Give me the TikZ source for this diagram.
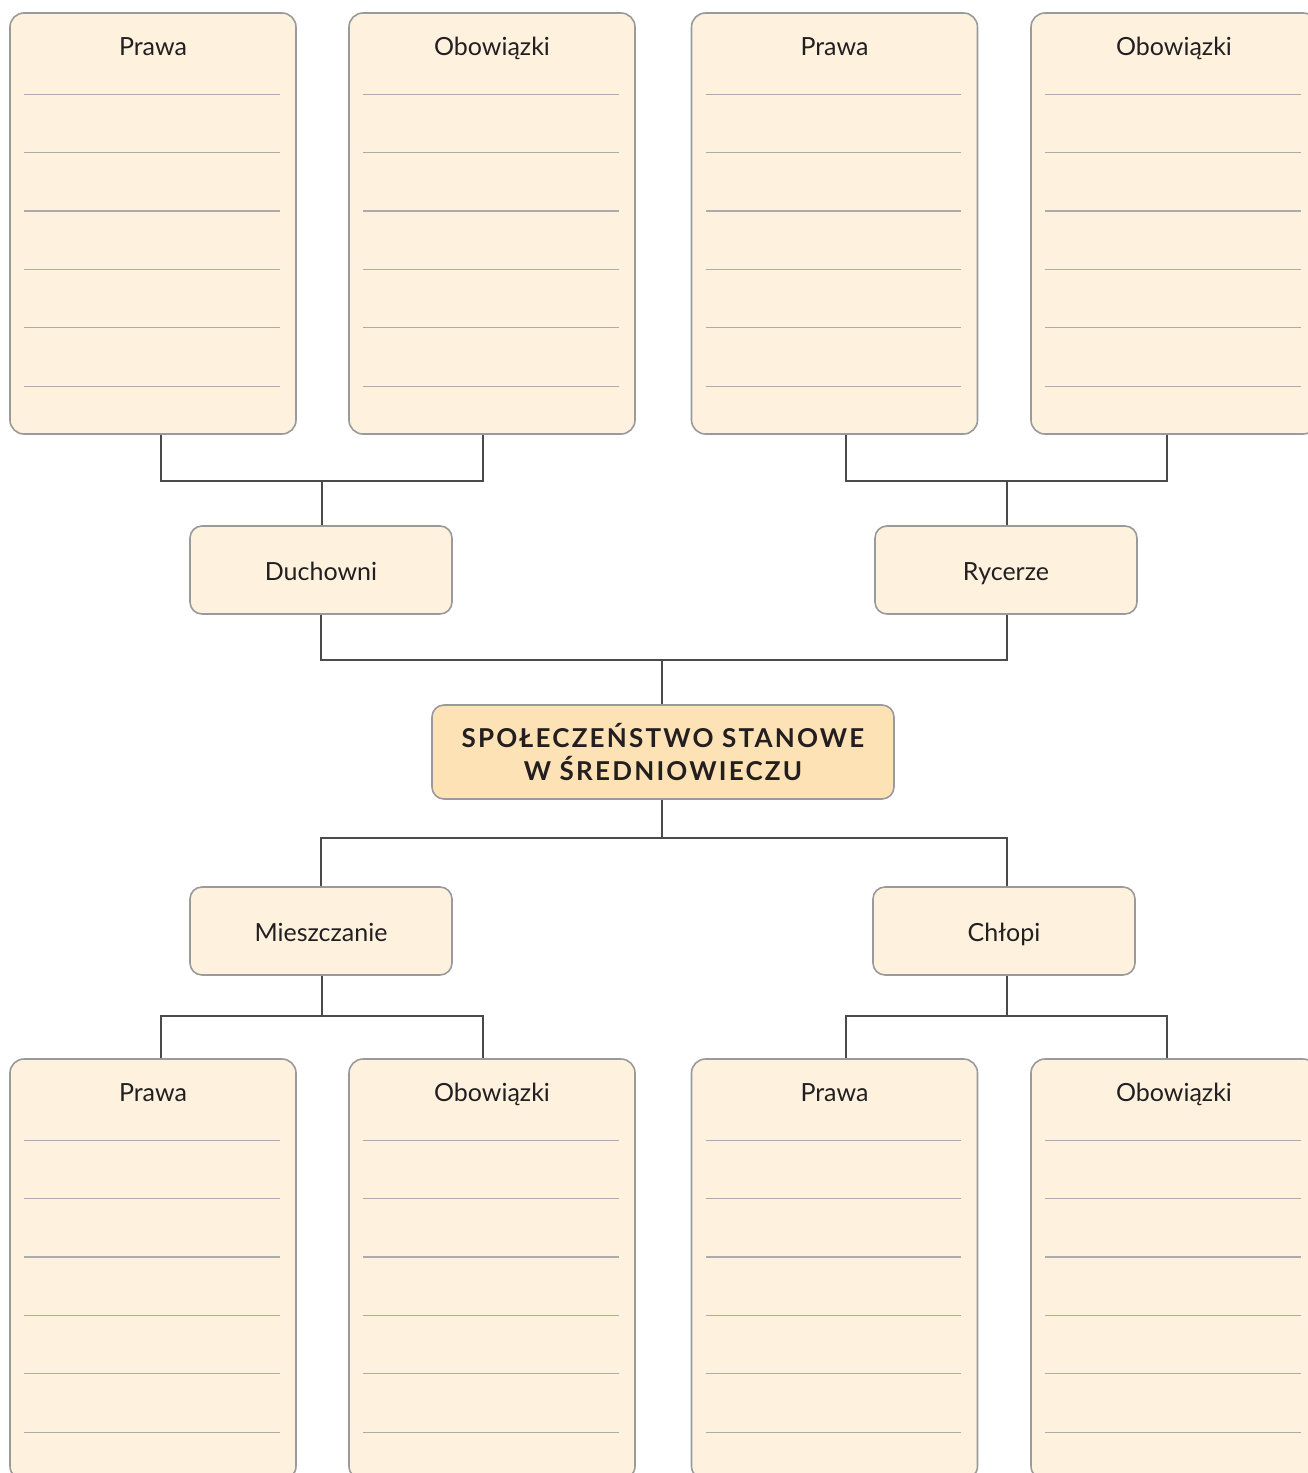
\documentclass[tikz,border=0pt]{standalone}
\usepackage{fontspec}
\setmainfont{Lato}
\usetikzlibrary{calc}
\definecolor{boxfill}{HTML}{FEF2DF}
\definecolor{boxdraw}{HTML}{9A9A9C}
\definecolor{centerfill}{HTML}{FDE2B5}
\definecolor{connline}{HTML}{4A4A4A}
\definecolor{ruleline}{HTML}{ABABAB}
\definecolor{txt}{HTML}{231F20}
\tikzset{
  bigbox/.style={draw=boxdraw, line width=1.6pt, fill=boxfill, rounded corners=14pt,
    minimum width=286pt, minimum height=421pt, inner sep=0pt},
  smallbox/.style={draw=boxdraw, line width=1.6pt, fill=boxfill, rounded corners=12pt,
    minimum width=262pt, minimum height=88pt, inner sep=0pt, text=txt,
    text height=20pt, text depth=0pt,
    font=\fontsize{25}{28}\selectfont},
  centerbox/.style={draw=boxdraw, line width=1.6pt, fill=centerfill, rounded corners=12pt,
    minimum width=462pt, minimum height=94pt, inner sep=0pt, text=txt, align=center,
    font=\fontsize{26}{32.5}\selectfont\bfseries\addfontfeatures{LetterSpace=8.5}},
  boxtitle/.style={text=txt, inner sep=0pt, font=\fontsize{25}{28}\selectfont},
  rule/.style={draw=ruleline, line width=1.1pt},
  conn/.style={draw=connline, line width=2pt}
}
\begin{document}
\begin{tikzpicture}[x=1pt,y=-1pt]
\useasboundingbox (0,0) rectangle (1308,1473);
\clip (0,0) rectangle (1308,1473);
\fill[white] (0,0) rectangle (1308,1473);

% junction points of the connectors
\coordinate (jt1) at (322,481);
\coordinate (jt2) at (1007,481);
\coordinate (jm1) at (662,660);
\coordinate (jm2) at (662,838);
\coordinate (jb1) at (322,1016);
\coordinate (jb2) at (1007,1016);

% big boxes
\foreach \n/\cx/\cy/\t in {a1/153/223.5/Prawa, a2/492/223.5/Obowiązki, a3/834.5/223.5/Prawa, a4/1174/223.5/Obowiązki,
                           b1/153/1269.5/Prawa, b2/492/1269.5/Obowiązki, b3/834.5/1269.5/Prawa, b4/1174/1269.5/Obowiązki}{
  \node[bigbox] (\n) at (\cx,\cy) {};
  \node[boxtitle, anchor=base] (\n t) at ($(\n.north)+(0,43)$) {\t};
  \foreach \k in {0,...,5}{
    \draw[rule] ($(\n.north west)+(15,82+58.4*\k)$) -- ($(\n.north east)+(-17,82+58.4*\k)$);
  }
}

\node[smallbox] (duch) at (321,570) {Duchowni};
\node[smallbox] (ryc) at (1006,570) {Rycerze};
\node[centerbox] (ctr) at (663,752) {SPOŁECZEŃSTWO STANOWE\\W ŚREDNIOWIECZU};
\node[smallbox] (mie) at (321,931) {Mieszczanie};
\node[smallbox] (chl) at (1004,931) {Chłopi};

% top-left group
\draw[conn] ([xshift=8pt]a1.south) |- (jt1) -| ([xshift=-9pt]a2.south);
\draw[conn] (jt1) -- (duch.north -| jt1);
% top-right group
\draw[conn] ([xshift=11.5pt]a3.south) |- (jt2) -| ([xshift=-7pt]a4.south);
\draw[conn] (jt2) -- (ryc.north -| jt2);
% middle
\draw[conn] (duch.south) |- (jm1) -| (ryc.south -| jt2);
\draw[conn] (jm1) -- (ctr.north -| jm1);
\draw[conn] (ctr.south -| jm2) -- (jm2);
\draw[conn] (mie.north) |- (jm2) -| (chl.north -| jb2);
% bottom-left
\draw[conn] (mie.south -| jb1) -- (jb1);
\draw[conn] ([xshift=8pt]b1.north) |- (jb1) -| ([xshift=-9pt]b2.north);
% bottom-right
\draw[conn] (chl.south -| jb2) -- (jb2);
\draw[conn] ([xshift=11.5pt]b3.north) |- (jb2) -| ([xshift=-7pt]b4.north);
\end{tikzpicture}
\end{document}
